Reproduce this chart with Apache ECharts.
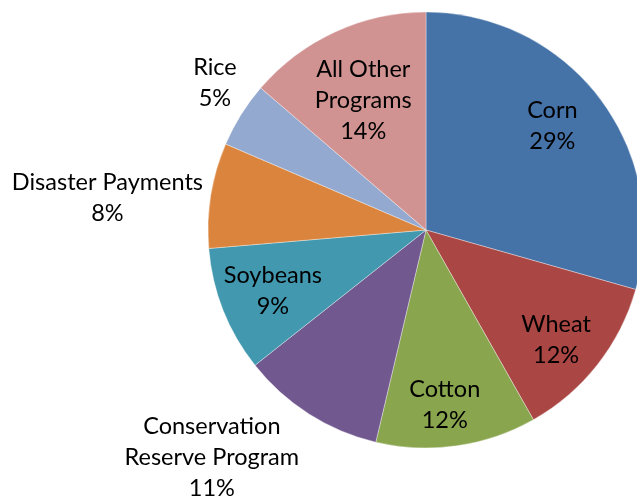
<!DOCTYPE html>
<html>
<head>
<meta charset="utf-8">
<script src="https://cdn.jsdelivr.net/npm/echarts@6/dist/echarts.min.js"></script>
<style>html,body{margin:0;padding:0;background:#fff;}#c{width:637px;height:500px;}</style>
</head>
<body>
<div id="c"></div>
<script>
const categories = ['Corn', 'Wheat', 'Cotton', 'Conservation\nReserve Program', 'Soybeans', 'Disaster Payments', 'Rice', 'All Other\nPrograms'];
const values = [29.4, 12.4, 11.9, 10.65, 9.3, 7.8, 4.85, 13.7];
const colors = ['#4572A7', '#AA4643', '#89A54E', '#71588F', '#4198AF', '#DB843D', '#93A9CF', '#D19392'];
// label nudges from the default inside position (pixels)
const labelShift = [[37, -37], [42, 41], [3, 64], [-154, 133], [-49, 20], [-208, -14], [-116, -88], [-16, -28]];

const chart = echarts.init(document.getElementById('c'));
chart.setOption({
  animation: false,
  series: [{
    type: 'pie',
    center: [426, 230],
    radius: 218,
    startAngle: 90,
    clockwise: true,
    data: categories.map((n, i) => ({ name: n, value: values[i], itemStyle: { color: colors[i] } })),
    itemStyle: { borderColor: 'rgba(255,255,255,0.6)', borderWidth: 0.6 },
    label: {
      show: true,
      position: 'inside',
      formatter: p => p.name + '\n' + Math.round(p.percent) + '%',
      color: '#000',
      fontFamily: 'Lato',
      fontSize: 23.5,
      lineHeight: 31,
      align: 'center'
    },
    labelLine: { show: false },
    labelLayout: p => ({ dx: labelShift[p.dataIndex][0], dy: labelShift[p.dataIndex][1] }),
    emphasis: { disabled: true }
  }]
});
</script>
</body>
</html>
